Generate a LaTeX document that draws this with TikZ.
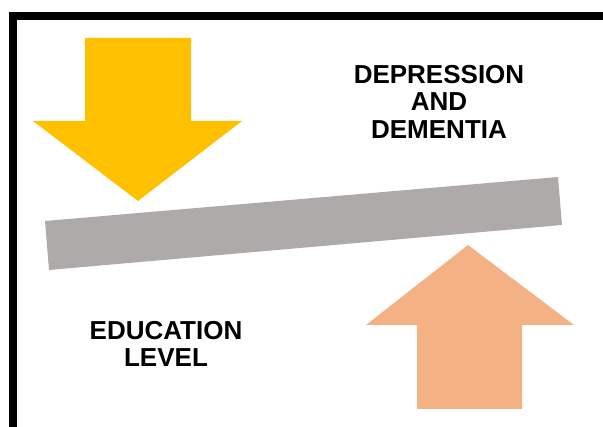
\documentclass[tikz,border=0pt]{standalone}
\usepackage{fontspec}
\setmainfont{Liberation Sans}
\usepackage{tikz}
\usetikzlibrary{positioning}
\definecolor{downyellow}{HTML}{FFC000}
\definecolor{uporange}{HTML}{F4B183}
\definecolor{beamgrey}{HTML}{AEAAAA}
\tikzstyle{bigtext}=[align=center, inner sep=0pt, font=\bfseries\fontsize{26}{27.5}\selectfont]

\begin{document}
\begin{tikzpicture}[x=1pt,y=1pt]

\useasboundingbox (0,0) rectangle (603,-427);
\clip (0,0) rectangle (603,-427);

% frame
\draw[line width=8pt] (13,-440) -- (13,-16) -- (620,-16);

% down arrow
\fill[downyellow] (85,-38) -- (191,-38) -- (191,-121) -- (242,-121) -- (138,-201)
    -- (33,-121) -- (85,-121) -- cycle;

% beam
\fill[beamgrey] (45,-221) -- (558,-177) -- (562,-225) -- (49,-270) -- cycle;

% up arrow
\fill[uporange] (417,-409) -- (522,-409) -- (522,-325) -- (574,-325) -- (468,-245)
    -- (366,-325) -- (417,-325) -- cycle;

% labels
\node[bigtext] (dep) at (439,-101.5) {DEPRESSION\\AND\\DEMENTIA};
\node[bigtext] (edu) at (166,-344) {EDUCATION\\LEVEL};

\end{tikzpicture}
\end{document}
